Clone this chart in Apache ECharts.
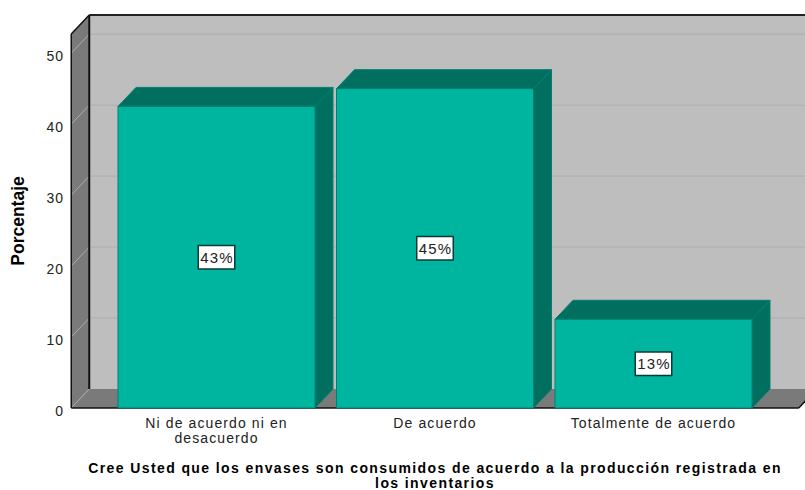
<!DOCTYPE html>
<html><head><meta charset="utf-8">
<style>
html,body{margin:0;padding:0;background:#fff;overflow:hidden}
#c{width:805px;height:490px}
svg text{letter-spacing:1.1px}
svg text[style*="bold"]{letter-spacing:1.4px}
svg text[style*="17.5px"]{letter-spacing:0}
</style>
<script src="https://cdn.jsdelivr.net/npm/echarts@6/dist/echarts.min.js"></script>
</head><body><div id="c"></div>
<script>
const categories = ['Ni de acuerdo ni en\ndesacuerdo', 'De acuerdo', 'Totalmente de acuerdo'];
const values = [42.5, 45, 12.5];
const valueLabels = ['43%', '45%', '13%'];
const tickValues = [0, 10, 20, 30, 40, 50];
const axisMax = 52.7;
const depthX = 18, depthY = 19, wallPad = 36;

const chart = echarts.init(document.getElementById('c'), null, {renderer: 'svg'});

function poly(pts, fill, stroke, lw, z2) {
  return {type: 'polygon', silent: true, z2: z2 || 0, shape: {points: pts},
    style: {fill: fill, stroke: stroke || null, lineWidth: lw || 0}};
}
function line(a, b, stroke, lw, z2) {
  return {type: 'line', silent: true, z2: z2 || 0,
    shape: {x1: a[0], y1: a[1], x2: b[0], y2: b[1]}, style: {stroke: stroke, lineWidth: lw || 1}};
}

function renderWalls(params, api) {
  const band = api.size([1, 0])[0];
  const xL = api.coord([0, 0])[0] - band / 2 - wallPad;
  const xR = api.coord([categories.length - 1, 0])[0] + band / 2 + wallPad;
  const y0 = api.coord([0, 0])[1];
  const yT = api.coord([0, axisMax])[1];
  const c = [];
  c.push(poly([[xL + depthX, yT - depthY], [xR + depthX, yT - depthY], [xR + depthX, y0 - depthY], [xL + depthX, y0 - depthY]], '#BEBEBE'));
  tickValues.forEach(v => {
    const y = api.coord([0, v])[1];
    if (v > 0) c.push(line([xL + depthX, y - depthY], [xR + depthX, y - depthY], '#AEAEAE', 1));
  });
  c.push(poly([[xL, y0], [xR, y0], [xR + depthX, y0 - depthY], [xL + depthX, y0 - depthY]], '#7A7A7A'));
  c.push(poly([[xL, y0], [xL + depthX, y0 - depthY], [xL + depthX, yT - depthY], [xL, yT]], '#7A7A7A'));
  tickValues.forEach(v => {
    const y = api.coord([0, v])[1];
    c.push(line([xL, y], [xL + depthX, y - depthY], '#ABABAB', 1));
  });
  c.push(line([xL + depthX, yT - depthY], [xR + depthX, yT - depthY], '#222', 2));
  c.push(line([xL + depthX, yT - depthY], [xL + depthX, y0 - depthY], '#111', 2));
  c.push(line([xL, yT], [xL + depthX, yT - depthY], '#111', 1.5));
  c.push(line([xL, y0], [xL, yT], '#111', 1.5));
  c.push(line([xL, y0], [xR, y0], '#111', 1.5));
  c.push(line([xR, y0], [xR + depthX, y0 - depthY], '#111', 1.5));
  return {type: 'group', children: c};
}

function renderBar(params, api) {
  const idx = api.value(0), val = api.value(1);
  const w = api.size([1, 0])[0] * 0.9016;
  const base = api.coord([idx, 0]);
  const top = api.coord([idx, val]);
  const l = base[0] - w / 2, r = base[0] + w / 2, y0 = base[1], y1 = top[1];
  const edge = '#00806F';
  return {type: 'group', children: [
    poly([[r, y1], [r + depthX, y1 - depthY], [r + depthX, y0 - depthY], [r, y0]], '#006F60', '#00806F', 1),
    poly([[l, y1], [l + depthX, y1 - depthY], [r + depthX, y1 - depthY], [r, y1]], '#006F60', '#00806F', 1),
    poly([[l, y1], [r, y1], [r, y0], [l, y0]], '#00B5A0', edge, 1),
    {type: 'text', silent: true, z2: 5, x: base[0], y: (y0 + y1) / 2,
      style: {text: valueLabels[params.dataIndex], fill: '#222', font: '15px "Liberation Sans"',
        align: 'center', verticalAlign: 'middle', backgroundColor: '#fff',
        borderColor: '#0B3A34', borderWidth: 1.5, padding: [4, 2, 3, 3]}}
  ]};
}

chart.setOption({
  animation: false,
  grid: {left: 107.25, width: 655.5, top: 34, bottom: 82, containLabel: false, outerBoundsMode: 'none'},
  xAxis: {
    type: 'category', data: categories,
    axisLine: {show: false}, axisTick: {show: false}, splitLine: {show: false},
    axisLabel: {color: '#222', fontFamily: 'Liberation Sans', fontSize: 14, lineHeight: 15, margin: 7, interval: 0},
    name: 'Cree Usted que los envases son consumidos de acuerdo a la producción registrada en\nlos inventarios',
    nameLocation: 'middle', nameGap: 52,
    nameTextStyle: {color: '#000', fontFamily: 'Liberation Sans', fontWeight: 'bold', fontSize: 14, lineHeight: 15}
  },
  yAxis: {
    type: 'value', min: 0, max: axisMax, interval: 10, offset: wallPad,
    axisLine: {show: false}, axisTick: {show: false}, splitLine: {show: false},
    axisLabel: {color: '#222', fontFamily: 'Liberation Sans', fontSize: 14, margin: 7, showMaxLabel: false, verticalAlign: 'top', lineHeight: 5},
    name: 'Porcentaje', nameLocation: 'middle', nameGap: 44,
    nameTextStyle: {color: '#000', fontFamily: 'Liberation Sans', fontWeight: 'bold', fontSize: 17.5}
  },
  series: [
    {type: 'custom', renderItem: renderWalls, data: [[0, 0]], silent: true, z: 1},
    {type: 'custom', renderItem: renderBar, data: values.map((v, i) => [i, v]), silent: true, z: 2,
      encode: {x: 0, y: 1}}
  ]
});
</script></body></html>
